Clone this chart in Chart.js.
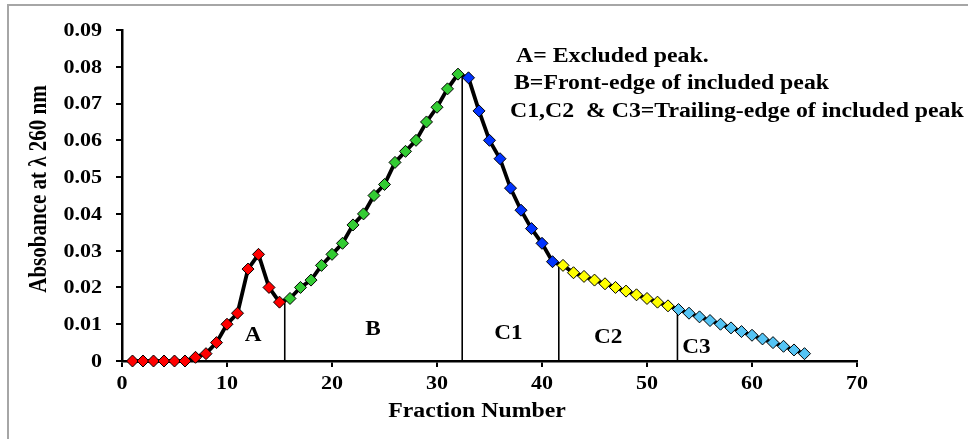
<!DOCTYPE html>
<html>
<head>
<meta charset="utf-8">
<script src="https://cdn.jsdelivr.net/npm/chart.js@4.4.1/dist/chart.umd.min.js"></script>
<style>
  html, body { margin: 0; padding: 0; background: #fff; }
  canvas { display: block; }
</style>
</head>
<body>
<canvas id="chart" width="968" height="439"></canvas>
<script>
// fraction numbers and absorbance readings
const fractions = [1, 2, 3, 4, 5, 6, 7, 8, 9, 10, 11, 12, 13, 14, 15,
  16, 17, 18, 19, 20, 21, 22, 23, 24, 25, 26, 27, 28, 29, 30, 31, 32,
  33, 34, 35, 36, 37, 38, 39, 40, 41,
  42, 43, 44, 45, 46, 47, 48, 49, 50, 51, 52,
  53, 54, 55, 56, 57, 58, 59, 60, 61, 62, 63, 64, 65];
const absorbance = [0, 0, 0, 0, 0, 0, 0.001, 0.002, 0.005, 0.010, 0.013, 0.025, 0.029, 0.020, 0.016,
  0.017, 0.020, 0.022, 0.026, 0.029, 0.032, 0.037, 0.040, 0.045, 0.048, 0.054, 0.057, 0.060, 0.065, 0.069, 0.074, 0.078,
  0.077, 0.068, 0.060, 0.055, 0.047, 0.041, 0.036, 0.032, 0.027,
  0.026, 0.024, 0.023, 0.022, 0.021, 0.020, 0.019, 0.018, 0.017, 0.016, 0.015,
  0.014, 0.013, 0.012, 0.011, 0.010, 0.009, 0.008, 0.007, 0.006, 0.005, 0.004, 0.003, 0.002];

// peak regions: last fraction of each region and its marker colour
const regionNames = ['A', 'B', 'C1', 'C2', 'C3'];
const regionLastFraction = [15, 32, 41, 52, 65];
const regionColors = ['#ff0000', '#33cc33', '#0033ff', '#ffff00', '#55c4f5'];

// region label anchors (data units)
const regionLabelX = [12.5, 23.9, 36.8, 46.3, 54.7];
const regionLabelY = [0.0068, 0.0084, 0.0073, 0.0063, 0.0035];

// vertical dividers between regions
const dividerX = [15.5, 32.4, 41.6, 52.9];
const dividerTop = [0.017, 0.0777, 0.0262, 0.0148];

const xTicks = [0, 10, 20, 30, 40, 50, 60, 70];
const yTicks = [0, 0.01, 0.02, 0.03, 0.04, 0.05, 0.06, 0.07, 0.08, 0.09];

const legendLines = [
  'A= Excluded peak.',
  'B=Front-edge of included peak',
  'C1,C2  & C3=Trailing-edge of included peak'
];

const FONT = '"Liberation Serif", "Times New Roman", serif';
const SX = 1.16; // the original figure is stretched sideways

function colorFor(fraction) {
  for (let i = 0; i < regionLastFraction.length; i++) {
    if (fraction <= regionLastFraction[i]) return regionColors[i];
  }
  return regionColors[regionColors.length - 1];
}

function stretchText(ctx, text, x, y, size, align, baseline, rotate) {
  ctx.save();
  ctx.translate(x, y);
  ctx.scale(SX, 1);
  if (rotate) ctx.rotate(rotate);
  ctx.font = 'bold ' + size + 'px ' + FONT;
  ctx.fillStyle = '#000';
  ctx.textAlign = align;
  ctx.textBaseline = baseline;
  ctx.fillText(text, 0, 0);
  ctx.restore();
}

const textPlugin = {
  id: 'textPlugin',
  beforeDraw(chart) {
    const ctx = chart.ctx;
    ctx.save();
    ctx.fillStyle = '#fff';
    ctx.fillRect(0, 0, chart.width, chart.height);
    ctx.fillStyle = '#a6a6a6';
    ctx.fillRect(7, 4, chart.width - 7, 2);
    ctx.fillRect(7, 4, 2, chart.height - 4);
    ctx.restore();
  },
  afterDraw(chart) {
    const ctx = chart.ctx;
    const xs = chart.scales.x, ys = chart.scales.y;

    yTicks.forEach(v => {
      const label = v === 0 ? '0' : v.toFixed(2);
      stretchText(ctx, label, 102, ys.getPixelForValue(v) + 1, 19, 'right', 'middle');
    });
    xTicks.forEach(v => {
      stretchText(ctx, String(v), xs.getPixelForValue(v), 384, 19, 'center', 'middle');
    });

    stretchText(ctx, 'Fraction Number', 477, 412, 20.5, 'center', 'middle');
    stretchText(ctx, 'Absobance at λ 260 nm', 40, 189, 21, 'center', 'middle', -Math.PI / 2);

    regionNames.forEach((name, i) => {
      stretchText(ctx, name, xs.getPixelForValue(regionLabelX[i]), ys.getPixelForValue(regionLabelY[i]),
        20, 'center', 'middle');
    });

    const lx = [516, 514, 510];
    const ly = [62, 89, 117];
    legendLines.forEach((t, i) => stretchText(ctx, t, lx[i], ly[i], 20.5, 'left', 'alphabetic'));
  }
};

const mainData = fractions.map((f, i) => ({ x: f, y: absorbance[i] }));

const dividerSets = dividerX.map((x, i) => ({
  data: [{ x: x, y: 0 }, { x: x, y: dividerTop[i] }],
  borderColor: '#000',
  borderWidth: 1.6,
  pointRadius: 0,
  clip: false
}));

new Chart(document.getElementById('chart'), {
  type: 'line',
  data: {
    datasets: [{
      label: 'Absorbance',
      data: mainData,
      borderColor: '#000',
      borderWidth: 3.8,
      tension: 0,
      pointStyle: 'rectRot',
      pointRadius: 6,
      pointBorderColor: '#000',
      pointBorderWidth: 1,
      pointBackgroundColor: fractions.map(colorFor),
      clip: false
    }].concat(dividerSets)
  },
  options: {
    responsive: false,
    devicePixelRatio: 1,
    animation: false,
    layout: { padding: { left: 0, top: 30, right: 111, bottom: 0 } },
    plugins: {
      legend: { display: false },
      tooltip: { enabled: false }
    },
    scales: {
      x: {
        type: 'linear',
        min: 0,
        max: 70,
        ticks: { stepSize: 10, color: 'rgba(0,0,0,0)', font: { size: 16 } },
        grid: { drawOnChartArea: false, drawTicks: true, tickLength: 6, color: '#000', lineWidth: 2 },
        border: { color: '#000', width: 2.5 },
        afterFit(scale) { scale.height = 78; }
      },
      y: {
        min: 0,
        max: 0.09,
        ticks: { stepSize: 0.01, color: 'rgba(0,0,0,0)', font: { size: 16 } },
        grid: { drawOnChartArea: false, drawTicks: true, tickLength: 6, color: '#000', lineWidth: 2 },
        border: { color: '#000', width: 2.5 },
        afterFit(scale) { scale.width = 122; }
      }
    }
  },
  plugins: [textPlugin]
});
</script>
</body>
</html>
